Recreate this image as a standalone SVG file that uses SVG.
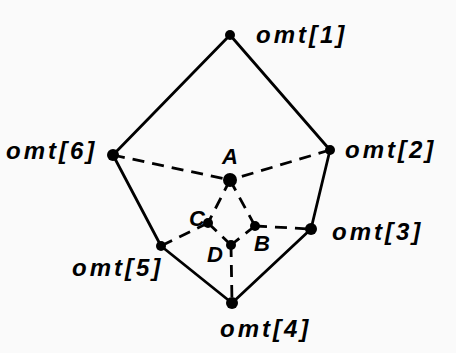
<svg xmlns="http://www.w3.org/2000/svg" width="456" height="353" viewBox="0 0 456 353">
<style>
.solid{stroke:#000;stroke-width:2.8;fill:none;stroke-linecap:round}
.dash{stroke:#000;stroke-width:2.8;fill:none;stroke-dasharray:12 8}
.dot{fill:#000}
.lbl{font-family:"Liberation Sans",Arial,sans-serif;font-weight:bold;font-style:italic;font-size:24px;fill:#000;letter-spacing:3px}
.sm{font-family:"Liberation Sans",Arial,sans-serif;font-weight:bold;font-style:italic;font-size:22px;fill:#000}
</style>
<rect width="456" height="353" fill="#fafafa"/>
<g id="connectors">
<line class="solid" x1="230" y1="35" x2="330" y2="150"/>
<line class="solid" x1="330" y1="150" x2="311" y2="229"/>
<line class="solid" x1="311" y1="229" x2="232" y2="303"/>
<line class="solid" x1="232" y1="303" x2="161" y2="246"/>
<line class="solid" x1="161" y1="246" x2="113" y2="155"/>
<line class="solid" x1="113" y1="155" x2="230" y2="35"/>
<line class="dash" x1="113" y1="155" x2="230" y2="180"/>
<line class="dash" x1="330" y1="150" x2="230" y2="180"/>
<line class="dash" x1="230" y1="180" x2="208" y2="223"/>
<line class="dash" x1="230" y1="180" x2="255" y2="226"/>
<line class="dash" x1="208" y1="223" x2="231" y2="245"/>
<line class="dash" x1="255" y1="226" x2="231" y2="245"/>
<line class="dash" x1="208" y1="223" x2="161" y2="246"/>
<line class="dash" x1="255" y1="226" x2="311" y2="229"/>
<line class="dash" x1="231" y1="245" x2="232" y2="303"/>
</g>
<g id="omt1"><circle class="dot" cx="230" cy="35" r="5"/><text class="lbl" x="256" y="43">omt[1]</text></g>
<g id="omt2"><circle class="dot" cx="330" cy="150" r="5"/><text class="lbl" x="345" y="158">omt[2]</text></g>
<g id="omt3"><circle class="dot" cx="311" cy="229" r="6"/><text class="lbl" x="332" y="240">omt[3]</text></g>
<g id="omt4"><circle class="dot" cx="232" cy="303" r="6"/><text class="lbl" x="220" y="337">omt[4]</text></g>
<g id="omt5"><circle class="dot" cx="161" cy="246" r="5"/><text class="lbl" x="72" y="276">omt[5]</text></g>
<g id="omt6"><circle class="dot" cx="113" cy="155" r="6"/><text class="lbl" x="6" y="159">omt[6]</text></g>
<g id="A"><circle class="dot" cx="230" cy="180" r="7"/><text class="sm" x="222" y="164">A</text></g>
<g id="B"><circle class="dot" cx="255" cy="226" r="5"/><text class="sm" x="254" y="251">B</text></g>
<g id="C"><circle class="dot" cx="208" cy="223" r="5"/><text class="sm" x="189" y="226">C</text></g>
<g id="D"><circle class="dot" cx="231" cy="245" r="5"/><text class="sm" x="207" y="262">D</text></g>
</svg>
